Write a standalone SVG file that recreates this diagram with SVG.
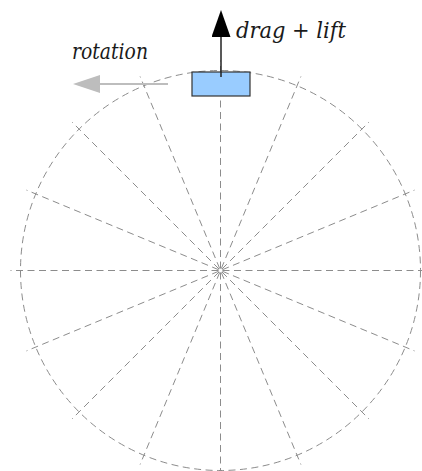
<svg xmlns="http://www.w3.org/2000/svg" width="422" height="471" viewBox="0 0 422 471">
  <style>
    .guide { fill: none; stroke: #8c8c8c; stroke-width: 1; stroke-dasharray: 7 4.5; }
    .spoke { stroke-dashoffset: 6; }
    text { font-family: "DejaVu Serif", "Liberation Serif", serif; font-style: italic; font-size: 22px; fill: #1a1a1a; }
  </style>
  <defs>
    <marker id="headBlack" markerUnits="userSpaceOnUse" markerWidth="28" markerHeight="20" refX="0" refY="9.5" orient="auto">
      <path d="M0,0 L27,9.5 L0,19 Z" fill="#000"/>
    </marker>
    <marker id="headGray" markerUnits="userSpaceOnUse" markerWidth="28" markerHeight="20" refX="0" refY="9" orient="auto">
      <path d="M0,0 L27,9 L0,18 Z" fill="#bdbdbd"/>
    </marker>
  </defs>
  <g id="wheel">
    <circle class="guide" cx="220.5" cy="270.5" r="200"/>
    <path class="guide spoke" d="M430.5,270.5 L220.5,270.5 M414.5,350.9 L220.5,270.5 M369,419 L220.5,270.5 M300.9,464.5 L220.5,270.5 M220.5,480.5 L220.5,270.5 M140.1,464.5 L220.5,270.5 M72,419 L220.5,270.5 M26.5,350.9 L220.5,270.5 M10.5,270.5 L220.5,270.5 M26.5,190.1 L220.5,270.5 M72,122 L220.5,270.5 M140.1,76.5 L220.5,270.5 M220.5,60.5 L220.5,270.5 M300.9,76.5 L220.5,270.5 M369,122 L220.5,270.5 M414.5,190.1 L220.5,270.5"/>
  </g>
  <g id="blade">
    <rect x="192" y="72" width="58" height="24" fill="#99ccff" stroke="#333" stroke-width="1.2"/>
  </g>
  <g id="connectors">
    <line x1="221" y1="77" x2="221" y2="37" stroke="#222" stroke-width="1.5" marker-end="url(#headBlack)"/>
    <line x1="168" y1="84" x2="100" y2="84" stroke="#bdbdbd" stroke-width="1.8" marker-end="url(#headGray)"/>
  </g>
  <g id="label-drag">
    <text x="236" y="38" textLength="110" lengthAdjust="spacingAndGlyphs">drag + lift</text>
  </g>
  <g id="label-rotation">
    <text x="72" y="59" textLength="76" lengthAdjust="spacingAndGlyphs">rotation</text>
  </g>
</svg>
